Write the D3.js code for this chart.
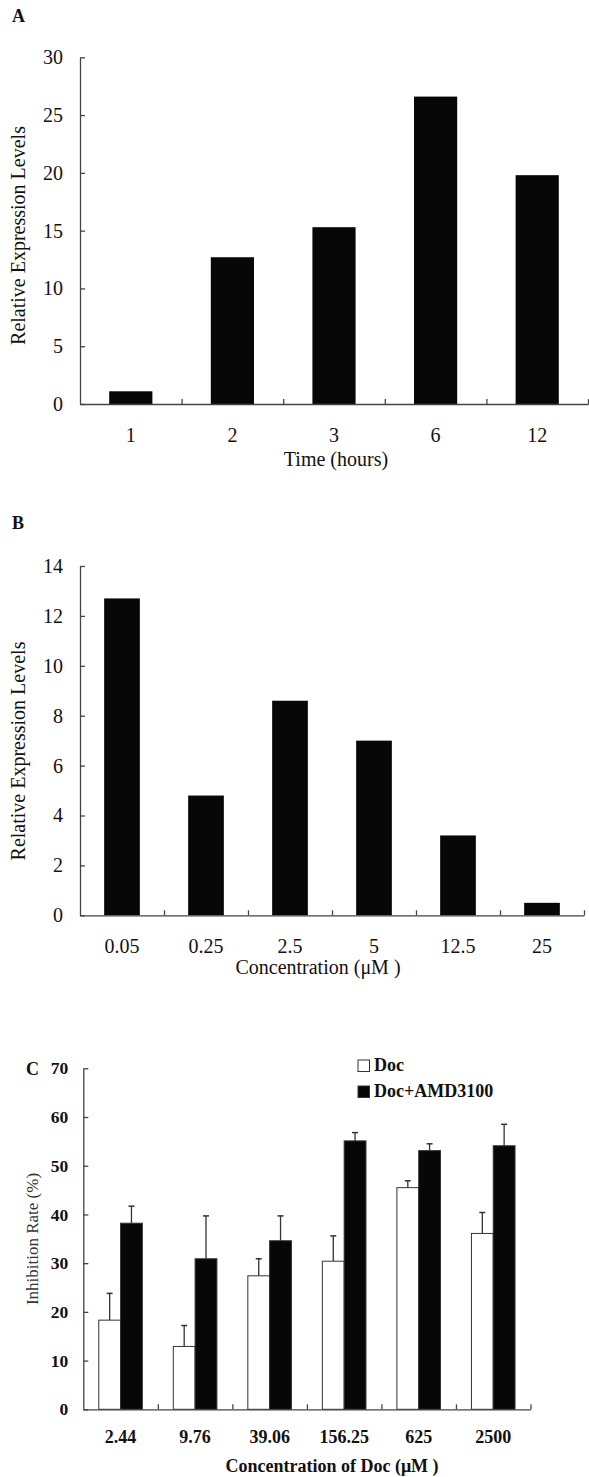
<!DOCTYPE html>
<head>
    <script src="https://d3js.org/d3.v7.min.js"></script>
</head>
<style>
body {
    margin: 0;
    background: #fff;
    font-family: "Liberation Serif", "Times New Roman", serif;
}
.axis path, .axis line { stroke: #444; stroke-width: 1.3px; }
.axis text { font-family: "Liberation Serif", "Times New Roman", serif; fill: #111; }
</style>
<body>
<svg></svg>
</body>
<script>

    // Panel A: expression over time
    var timeLabels = ["1", "2", "3", "6", "12"];
    var timeValues = [1.1, 12.7, 15.3, 26.6, 19.8];
    var timeTicks = [0, 5, 10, 15, 20, 25, 30];

    // Panel B: expression by concentration
    var concLabels = ["0.05", "0.25", "2.5", "5", "12.5", "25"];
    var concValues = [12.7, 4.8, 8.6, 7.0, 3.2, 0.5];
    var concTicks = [0, 2, 4, 6, 8, 10, 12, 14];

    // Panel C: inhibition rate, two series with upper error bars
    var docLabels = ["2.44", "9.76", "39.06", "156.25", "625", "2500"];
    var seriesNames = ["Doc", "Doc+AMD3100"];
    var docValues = [18.3, 12.9, 27.4, 30.4, 45.5, 36.1];
    var docErrors = [5.5, 4.3, 3.5, 5.2, 1.4, 4.3];
    var amdValues = [38.2, 30.9, 34.6, 55.1, 53.1, 54.1];
    var amdErrors = [3.5, 8.8, 5.1, 1.7, 1.4, 4.4];
    var rateTicks = [0, 10, 20, 30, 40, 50, 60, 70];

    var width = 589;
    var height = 1477;

    var svg = d3.select('svg')
        .attr('width', width)
        .attr('height', height);

    // single-series bar panel (A and B)
    function barPanel(opt) {
        var x = d3.scaleBand()
            .domain(opt.labels)
            .range(opt.xRange)
            .paddingInner(0.575)
            .paddingOuter(0.2875);

        var y = d3.scaleLinear()
            .domain([0, d3.max(opt.ticks)])
            .range(opt.yRange);

        var g = svg.append('g');

        g.selectAll('rect.bar')
            .data(opt.values)
            .enter().append('rect')
            .attr('class', 'bar')
            .attr('x', function (d, i) { return x(opt.labels[i]); })
            .attr('y', function (d) { return y(d); })
            .attr('width', x.bandwidth())
            .attr('height', function (d) { return y(0) - y(d); })
            .style('fill', '#070707');

        drawAxes(g, x, y, opt);
    }

    function drawAxes(g, x, y, opt) {
        // y axis, ticks pointing inward
        var ya = g.append('g')
            .attr('class', 'axis')
            .attr('transform', 'translate(' + opt.xRange[0] + ',0)')
            .call(d3.axisLeft(y).tickValues(opt.ticks).tickSizeInner(-5).tickSizeOuter(0).tickPadding(opt.yPad));
        ya.selectAll('text').style('font-size', opt.tickFont + 'px').style('font-weight', opt.tickWeight);

        // x axis labels
        var xa = g.append('g')
            .attr('class', 'axis')
            .attr('transform', 'translate(0,' + opt.yRange[0] + ')')
            .call(d3.axisBottom(x).tickSize(0).tickPadding(opt.xPad));
        xa.selectAll('text').style('font-size', opt.labelFont + 'px').style('font-weight', opt.tickWeight);

        // boundary ticks between categories, pointing up
        var n = opt.labels.length;
        var edge = d3.scaleLinear().domain([0, n]).range(opt.xRange);
        var ea = g.append('g')
            .attr('class', 'axis')
            .attr('transform', 'translate(0,' + opt.yRange[0] + ')')
            .call(d3.axisBottom(edge).tickValues(d3.range(1, n + 1)).tickSizeInner(-5).tickSizeOuter(0).tickFormat(''));
        ea.select('.domain').remove();

        // titles
        g.append('text')
            .attr('transform', 'translate(' + opt.yTitle[0] + ',' + opt.yTitle[1] + ')rotate(-90)')
            .attr('text-anchor', 'middle')
            .attr('dy', '0.35em')
            .style('font-size', opt.yTitleFont + 'px')
            .style('fill', opt.yTitleColor || '#111')
            .text(opt.yTitleText);

        g.append('text')
            .attr('x', opt.xTitle[0])
            .attr('y', opt.xTitle[1])
            .attr('text-anchor', 'middle')
            .style('font-size', opt.xTitleFont + 'px')
            .style('font-weight', opt.xTitleWeight || 'normal')
            .style('fill', '#111')
            .text(opt.xTitleText);

        g.append('text')
            .attr('x', opt.letter[0])
            .attr('y', opt.letter[1])
            .style('font-size', '18px')
            .style('font-weight', 'bold')
            .style('fill', '#111')
            .text(opt.letterText);
    }

    barPanel({
        labels: timeLabels, values: timeValues, ticks: timeTicks,
        xRange: [80, 588], yRange: [404, 57.3],
        yPad: 17, xPad: 24, tickFont: 20, labelFont: 20, tickWeight: 'normal',
        yTitle: [18, 235.5], yTitleText: 'Relative Expression Levels', yTitleFont: 20,
        xTitle: [336, 466], xTitleText: 'Time (hours)', xTitleFont: 20,
        letter: [12, 22], letterText: 'A'
    });

    barPanel({
        labels: concLabels, values: concValues, ticks: concTicks,
        xRange: [80, 584], yRange: [915.3, 566],
        yPad: 17, xPad: 24, tickFont: 20, labelFont: 20, tickWeight: 'normal',
        yTitle: [18, 751], yTitleText: 'Relative Expression Levels', yTitleFont: 20,
        xTitle: [318, 974], xTitleText: 'Concentration (\u03bcM )', xTitleFont: 20,
        letter: [12, 529], letterText: 'B'
    });

    // Panel C: grouped bars with error bars
    (function () {
        var opt = {
            labels: docLabels, ticks: rateTicks,
            xRange: [83.3, 530.5], yRange: [1409.3, 1068.3],
            yPad: 15, xPad: 20.5, tickFont: 17.5, labelFont: 18, tickWeight: 'bold',
            yTitle: [32, 1239], yTitleText: 'Inhibition Rate (%)', yTitleFont: 17, yTitleColor: '#333',
            xTitle: [332, 1472], xTitleText: 'Concentration of Doc (\u03bcM )', xTitleFont: 18, xTitleWeight: 'bold',
            letter: [26, 1075], letterText: 'C'
        };

        var x0 = d3.scaleBand()
            .domain(docLabels)
            .range(opt.xRange)
            .paddingInner(0.415)
            .paddingOuter(0.2075);

        var x1 = d3.scaleBand()
            .domain(seriesNames)
            .range([0, x0.bandwidth()]);

        var y = d3.scaleLinear()
            .domain([0, 70])
            .range(opt.yRange);

        var rows = docLabels.map(function (c, i) {
            return [
                { cat: c, s: seriesNames[0], v: docValues[i], e: docErrors[i] },
                { cat: c, s: seriesNames[1], v: amdValues[i], e: amdErrors[i] }
            ];
        });
        var fills = { "Doc": "#fff", "Doc+AMD3100": "#070707" };

        var g = svg.append('g');

        var grp = g.selectAll('g.grp')
            .data(rows)
            .enter().append('g')
            .attr('class', 'grp')
            .attr('transform', function (d) { return 'translate(' + x0(d[0].cat) + ',0)'; });

        var bar = grp.selectAll('g.bar')
            .data(function (d) { return d; })
            .enter().append('g')
            .attr('class', 'bar');

        // error bars first so bars sit on top of the whisker base
        bar.append('line')
            .attr('x1', function (d) { return x1(d.s) + x1.bandwidth() / 2; })
            .attr('x2', function (d) { return x1(d.s) + x1.bandwidth() / 2; })
            .attr('y1', function (d) { return y(d.v); })
            .attr('y2', function (d) { return y(d.v + d.e); })
            .style('stroke', '#333')
            .style('stroke-width', 1.3);

        bar.append('line')
            .attr('x1', function (d) { return x1(d.s) + x1.bandwidth() / 2 - 3; })
            .attr('x2', function (d) { return x1(d.s) + x1.bandwidth() / 2 + 3; })
            .attr('y1', function (d) { return y(d.v + d.e); })
            .attr('y2', function (d) { return y(d.v + d.e); })
            .style('stroke', '#333')
            .style('stroke-width', 1.5);

        bar.append('rect')
            .attr('x', function (d) { return x1(d.s); })
            .attr('y', function (d) { return y(d.v); })
            .attr('width', x1.bandwidth())
            .attr('height', function (d) { return y(0) - y(d.v); })
            .style('fill', function (d) { return fills[d.s]; })
            .style('stroke', '#333')
            .style('stroke-width', 1);

        drawAxes(g, x0, y, opt);

        // legend
        var leg = g.selectAll('g.legend')
            .data(seriesNames)
            .enter().append('g')
            .attr('class', 'legend')
            .attr('transform', function (d, i) { return 'translate(358,' + (1060 + i * 26) + ')'; });

        leg.append('rect')
            .attr('width', 11.5)
            .attr('height', 11.5)
            .style('fill', function (d) { return fills[d]; })
            .style('stroke', '#333')
            .style('stroke-width', 1);

        leg.append('text')
            .attr('x', 16)
            .attr('y', 11)
            .style('font-size', '18px')
            .style('font-weight', 'bold')
            .style('fill', '#111')
            .text(function (d) { return d; });
    })();

</script>
